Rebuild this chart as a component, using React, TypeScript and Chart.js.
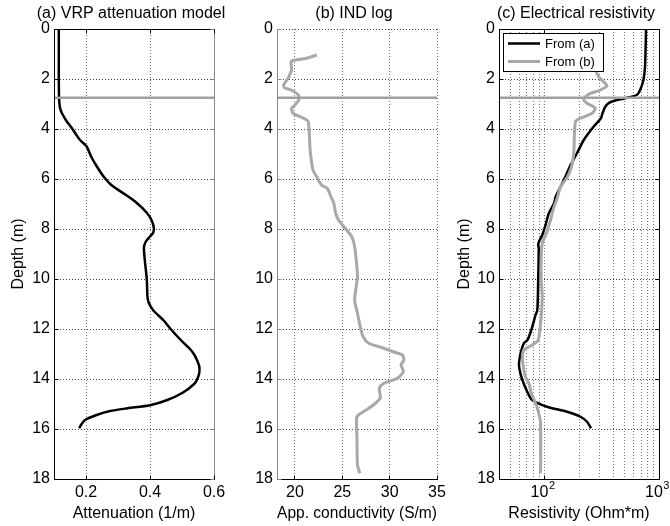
import React, { useEffect, useRef } from 'react';
import { Chart, registerables } from 'chart.js';

Chart.register(...registerables);

// ---------------- data ----------------
const DEPTH_RANGE = [0, 18];
const DEPTH_TICKS = [0, 2, 4, 6, 8, 10, 12, 14, 16, 18];
const INTERFACE_DEPTH = 2.75;

// (a) VRP attenuation model
const ATT_RANGE = [0.1, 0.6];
const ATT_TICKS = [0.2, 0.4, 0.6];
const ATT_DEPTH = [0, 1, 2, 2.8, 3.1, 3.25, 3.4, 3.7, 3.95, 4.2, 4.45, 4.7, 5.1, 5.5, 5.9, 6.25, 6.65, 6.95, 7.35, 7.65, 7.95, 8.15, 8.3, 8.5, 8.75, 9.4, 10.0, 10.7, 10.95, 11.25, 11.65, 12.05, 12.45, 12.8, 13.0, 13.25, 13.5, 13.75, 14.0, 14.2, 14.55, 14.85, 15.05, 15.17, 15.28, 15.44, 15.64, 15.84, 15.97];
const ATT_VALUE = [0.115, 0.115, 0.115, 0.116, 0.118, 0.121, 0.126, 0.14, 0.155, 0.168, 0.182, 0.202, 0.216, 0.234, 0.255, 0.28, 0.326, 0.358, 0.39, 0.405, 0.412, 0.41, 0.4, 0.387, 0.381, 0.385, 0.39, 0.392, 0.396, 0.41, 0.442, 0.468, 0.497, 0.525, 0.537, 0.547, 0.554, 0.554, 0.548, 0.538, 0.502, 0.452, 0.4, 0.33, 0.275, 0.233, 0.197, 0.184, 0.179];

// (b) IND log
const COND_RANGE = [18.1, 35];
const COND_TICKS = [20, 25, 30, 35];
const COND_DEPTH = [1.04, 1.17, 1.24, 1.3, 1.64, 1.77, 1.95, 2.24, 2.35, 2.44, 2.64, 2.84, 3.04, 3.17, 3.37, 3.57, 3.71, 4.84, 5.64, 5.91, 6.24, 6.37, 6.71, 6.97, 7.37, 7.64, 7.97, 8.31, 8.71, 9.37, 9.91, 10.84, 11.37, 11.91, 12.31, 12.57, 12.77, 12.9, 13.04, 13.24, 13.44, 13.71, 13.97, 14.17, 14.37, 14.64, 14.77, 14.97, 15.17, 15.44, 15.57, 16.44, 17.44, 17.77];
const COND_VALUE = [22.3, 21.2, 20.0, 19.6, 19.65, 19.5, 19.3, 18.8, 18.9, 19.6, 20.35, 20.4, 20.0, 19.65, 19.8, 20.9, 21.4, 21.6, 21.9, 22.3, 22.8, 23.4, 23.8, 24.1, 24.3, 24.6, 25.3, 26.0, 26.3, 26.5, 26.6, 26.3, 26.6, 26.9, 27.2, 27.8, 29.4, 30.3, 31.35, 31.5, 31.2, 31.45, 30.8, 29.4, 28.9, 29.0, 29.0, 28.5, 27.8, 26.7, 26.5, 26.55, 26.6, 26.85];

// (c) Electrical resistivity
const RES_RANGE = [40, 1000];
const RES_GRID = [40, 50, 60, 70, 80, 90, 100, 200, 300, 400, 500, 600, 700, 800, 900, 1000];
const RES_MAJOR = [100, 1000];
const RES_MAJOR_BASE = ['10', '10'];
const RES_MAJOR_EXP = ['2', '3'];
const RES_A_DEPTH = [0, 1.5, 2.04, 2.44, 2.64, 2.77, 2.88, 2.97, 3.11, 3.37, 3.57, 3.91, 4.44, 4.97, 5.51, 5.91, 6.31, 6.71, 6.97, 7.37, 7.84, 8.24, 8.51, 8.64, 8.77, 10.04, 11.24, 11.44, 12.04, 12.44, 12.57, 12.97, 13.37, 13.64, 14.04, 14.57, 14.84, 15.11, 15.31, 15.51, 15.71, 15.97];
const RES_A_VALUE = [771, 755, 731, 684, 640, 506, 401, 362, 339, 321, 311, 268, 220, 192, 166, 152, 138, 125, 121, 109, 102, 95.5, 89.3, 88, 89, 88, 86.5, 83.5, 76.6, 71, 66, 61.8, 59.8, 60.6, 64, 71.6, 78, 105, 157, 206, 235, 255];
const RES_B_DEPTH = [1.04, 1.3, 1.5, 1.7, 1.91, 2.11, 2.28, 2.44, 2.61, 2.81, 2.97, 3.17, 3.37, 3.57, 3.71, 4.97, 5.51, 5.95, 6.31, 6.77, 7.11, 7.64, 8.17, 8.57, 9.11, 10.04, 10.71, 11.51, 12.04, 12.44, 12.64, 12.84, 13.11, 13.51, 13.91, 14.17, 14.57, 14.97, 15.37, 15.77, 17.77];
const RES_B_VALUE = [240, 275, 280, 283, 297, 328, 351, 307, 243, 220, 235, 277, 260, 206, 186, 180, 172, 157, 138, 129, 121, 112.7, 104, 95.5, 93.5, 93.5, 95.5, 93.5, 91, 88, 78, 66, 64, 65.3, 68, 73, 76.6, 83.5, 89, 92.3, 92.3];

const TITLES = ['(a) VRP attenuation model', '(b) IND log', '(c) Electrical resistivity'];
const X_TITLES = ['Attenuation (1/m)', 'App. conductivity (S/m)', 'Resistivity (Ohm*m)'];
const Y_TITLE = 'Depth (m)';
const LEGEND_LABELS = ['From (a)', 'From (b)'];

// ---------------- style ----------------
const W = 670;
const H = 526;
const FONT = '"Liberation Sans", Arial, Helvetica, sans-serif';
const BLACK = '#000000';
const GRAY = '#a8a8a8';
const IFACE = '#a0a0a0';

const pts = (xs: number[], ys: number[]) => xs.map((x, i) => ({ x, y: ys[i] }));

type Frame = { top?: string; right?: string; bottom?: string; left?: string };
type Panel = {
  area: { left: number; right: number; top: number; bottom: number };
  yWidth: number;
  xHeight: number;
  title: string;
  xTitle: string;
  yTitle: string | null;
  xType: 'linear' | 'logarithmic';
  xRange: number[];
  xGrid: number[];
  xMajor: number[];
  xLabel: (v: number) => string;
  powerLabels?: boolean;
  datasets: any[];
  frame: Frame;
  legend?: { label: string; color: string; width: number }[];
};

const ifaceLine = (range: number[]) => ({
  data: [{ x: range[0], y: INTERFACE_DEPTH }, { x: range[1], y: INTERFACE_DEPTH }],
  borderColor: IFACE,
  borderWidth: 2.5,
  tension: 0,
  pointRadius: 0,
});

const curve = (xs: number[], ys: number[], color: string, width: number) => ({
  data: pts(xs, ys),
  borderColor: color,
  borderWidth: width,
  tension: 0.25,
  pointRadius: 0,
  fill: false,
});

const near = (a: number, b: number) => Math.abs(a - b) < 1e-6 * Math.max(1, Math.abs(b));

const PANELS: Panel[] = [
  {
    area: { left: 54, right: 214, top: 29, bottom: 479 },
    yWidth: 45,
    xHeight: 44,
    title: TITLES[0],
    xTitle: X_TITLES[0],
    yTitle: Y_TITLE,
    xType: 'linear',
    xRange: ATT_RANGE,
    xGrid: ATT_TICKS,
    xMajor: ATT_TICKS,
    xLabel: (v) => v.toFixed(1),
    datasets: [ifaceLine(ATT_RANGE), curve(ATT_VALUE, ATT_DEPTH, BLACK, 2.5)],
    frame: { top: BLACK, right: '#888888', bottom: BLACK, left: BLACK },
  },
  {
    area: { left: 277, right: 437, top: 29, bottom: 479 },
    yWidth: 30,
    xHeight: 44,
    title: TITLES[1],
    xTitle: X_TITLES[1],
    yTitle: null,
    xType: 'linear',
    xRange: COND_RANGE,
    xGrid: COND_TICKS,
    xMajor: COND_TICKS,
    xLabel: (v) => String(Math.round(v)),
    datasets: [ifaceLine(COND_RANGE), curve(COND_VALUE, COND_DEPTH, GRAY, 3)],
    frame: { bottom: BLACK, left: '#888888' },
  },
  {
    area: { left: 499, right: 659, top: 29, bottom: 479 },
    yWidth: 44,
    xHeight: 44,
    title: TITLES[2],
    xTitle: X_TITLES[2],
    yTitle: Y_TITLE,
    xType: 'logarithmic',
    xRange: RES_RANGE,
    xGrid: RES_GRID,
    xMajor: RES_MAJOR,
    xLabel: () => '',
    powerLabels: true,
    datasets: [
      ifaceLine(RES_RANGE),
      curve(RES_B_VALUE, RES_B_DEPTH, GRAY, 3),
      curve(RES_A_VALUE, RES_A_DEPTH, BLACK, 2.5),
    ],
    frame: { top: BLACK, right: BLACK, bottom: BLACK, left: BLACK },
    legend: [
      { label: LEGEND_LABELS[0], color: BLACK, width: 2.5 },
      { label: LEGEND_LABELS[1], color: GRAY, width: 3 },
    ],
  },
];

const al = (v: number) => Math.round(v - 0.5) + 0.5;

function decor(p: Panel) {
  return {
    id: 'decor',
    afterDatasetsDraw(chart: any) {
      const { ctx, chartArea: a, scales } = chart;
      const L = al(a.left), R = al(a.right), T = al(a.top), B = al(a.bottom);
      ctx.save();
      ctx.lineWidth = 1;
      ctx.setLineDash([]);
      const seg = (x1: number, y1: number, x2: number, y2: number, c: string) => {
        ctx.strokeStyle = c;
        ctx.beginPath();
        ctx.moveTo(x1, y1);
        ctx.lineTo(x2, y2);
        ctx.stroke();
      };
      const f = p.frame;
      if (f.top) seg(L - 0.5, T, R + 0.5, T, f.top);
      if (f.bottom) seg(L - 0.5, B, R + 0.5, B, f.bottom);
      if (f.left) seg(L, T - 0.5, L, B + 0.5, f.left);
      if (f.right) seg(R, T - 0.5, R, B + 0.5, f.right);
      const tl = 4;
      DEPTH_TICKS.forEach((d) => {
        const y = al(scales.y.getPixelForValue(d));
        if (f.left) seg(L, y, L + tl, y, f.left);
        if (f.right) seg(R, y, R - tl, y, f.right);
      });
      p.xMajor.forEach((v) => {
        const x = al(scales.x.getPixelForValue(v));
        if (f.bottom) seg(x, B, x, B - tl, f.bottom);
        if (f.top) seg(x, T, x, T + tl, f.top);
      });
      if (p.legend) {
        const bx = a.left + 4, by = a.top + 4, bw = 100, bh = 38;
        ctx.fillStyle = '#ffffff';
        ctx.fillRect(bx, by, bw, bh);
        ctx.lineWidth = 1;
        ctx.strokeStyle = BLACK;
        ctx.strokeRect(al(bx), al(by), bw, bh);
        ctx.font = `13px ${FONT}`;
        ctx.textBaseline = 'middle';
        ctx.textAlign = 'left';
        p.legend.forEach((e, i) => {
          const yy = by + 10.5 + i * 18;
          ctx.strokeStyle = e.color;
          ctx.lineWidth = e.width;
          ctx.beginPath();
          ctx.moveTo(bx + 5, yy);
          ctx.lineTo(bx + 37, yy);
          ctx.stroke();
          ctx.fillStyle = BLACK;
          ctx.fillText(e.label, bx + 42, yy + 0.5);
        });
      }
      ctx.restore();
    },
    afterDraw(chart: any) {
      const { ctx, chartArea: a, scales } = chart;
      ctx.save();
      ctx.font = `16px ${FONT}`;
      ctx.fillStyle = BLACK;
      ctx.textAlign = 'center';
      ctx.textBaseline = 'middle';
      ctx.fillText(p.title, (a.left + a.right) / 2 - 3, 14);
      if (p.powerLabels) {
        // power-of-ten tick labels (base + raised exponent) at the log scale's major ticks
        RES_MAJOR.forEach((v, i) => {
          const x = scales.x.getPixelForValue(v);
          const base = RES_MAJOR_BASE[i];
          const exp = RES_MAJOR_EXP[i];
          ctx.font = `16px ${FONT}`;
          const bw = ctx.measureText(base).width;
          ctx.font = `11px ${FONT}`;
          const ew = ctx.measureText(exp).width;
          const x0 = x - (bw + ew) / 2 - 2;
          ctx.textAlign = 'left';
          ctx.font = `16px ${FONT}`;
          ctx.fillText(base, x0, a.bottom + 14);
          ctx.font = `11px ${FONT}`;
          ctx.fillText(exp, x0 + bw + 0.5, a.bottom + 7);
        });
      }
      ctx.restore();
    },
  };
}

function buildConfig(p: Panel): any {
  const font = { family: FONT, size: 16 };
  return {
    type: 'line',
    data: { datasets: p.datasets },
    options: {
      responsive: false,
      maintainAspectRatio: false,
      animation: false,
      devicePixelRatio: 1,
      layout: {
        padding: {
          left: p.area.left - p.yWidth,
          right: W - p.area.right,
          top: p.area.top,
          bottom: H - p.area.bottom - p.xHeight,
        },
      },
      plugins: { legend: { display: false }, tooltip: { enabled: false }, title: { display: false } },
      elements: { point: { radius: 0 } },
      scales: {
        x: {
          type: p.xType,
          position: 'bottom',
          min: p.xRange[0],
          max: p.xRange[1],
          afterBuildTicks: (s: any) => {
            s.ticks = p.xGrid.map((v) => ({ value: v }));
          },
          afterFit: (s: any) => {
            s.height = p.xHeight;
            s.paddingLeft = 0;
            s.paddingRight = 0;
          },
          ticks: {
            autoSkip: false,
            maxRotation: 0,
            minRotation: 0,
            padding: 4,
            color: BLACK,
            font,
            callback: (v: any) => p.xLabel(Number(v)),
          },
          grid: { drawTicks: false, color: '#7a7a7a', lineWidth: 1 },
          border: { display: false, dash: [1, 2] },
          title: { display: true, text: p.xTitle, color: BLACK, font, padding: { top: 0, bottom: 0 } },
        },
        y: {
          type: 'linear',
          position: 'left',
          reverse: true,
          min: DEPTH_RANGE[0],
          max: DEPTH_RANGE[1],
          afterBuildTicks: (s: any) => {
            s.ticks = DEPTH_TICKS.map((v) => ({ value: v }));
          },
          afterFit: (s: any) => {
            s.width = p.yWidth;
            s.paddingTop = 0;
            s.paddingBottom = 0;
          },
          ticks: { padding: 4, color: BLACK, font, callback: (v: any) => String(v) },
          grid: { drawTicks: false, color: '#444444', lineWidth: 1 },
          border: { display: false, dash: [1, 2] },
          title: {
            display: !!p.yTitle,
            text: p.yTitle || '',
            color: BLACK,
            font,
            padding: { top: 0, bottom: 0 },
          },
        },
      },
    },
    plugins: [decor(p)],
  };
}

function PanelCanvas({ panel }: { panel: Panel }) {
  const ref = useRef<HTMLCanvasElement | null>(null);
  useEffect(() => {
    if (!ref.current) return;
    const chart = new Chart(ref.current, buildConfig(panel));
    return () => chart.destroy();
  }, [panel]);
  return (
    <canvas
      ref={ref}
      width={W}
      height={H}
      style={{ position: 'absolute', left: 0, top: 0, width: W, height: H }}
    />
  );
}

export default function App() {
  return (
    <div style={{ position: 'fixed', left: 0, top: 0, width: W, height: H, background: '#ffffff', overflow: 'hidden' }}>
      {PANELS.map((p, i) => (
        <PanelCanvas key={i} panel={p} />
      ))}
    </div>
  );
}
